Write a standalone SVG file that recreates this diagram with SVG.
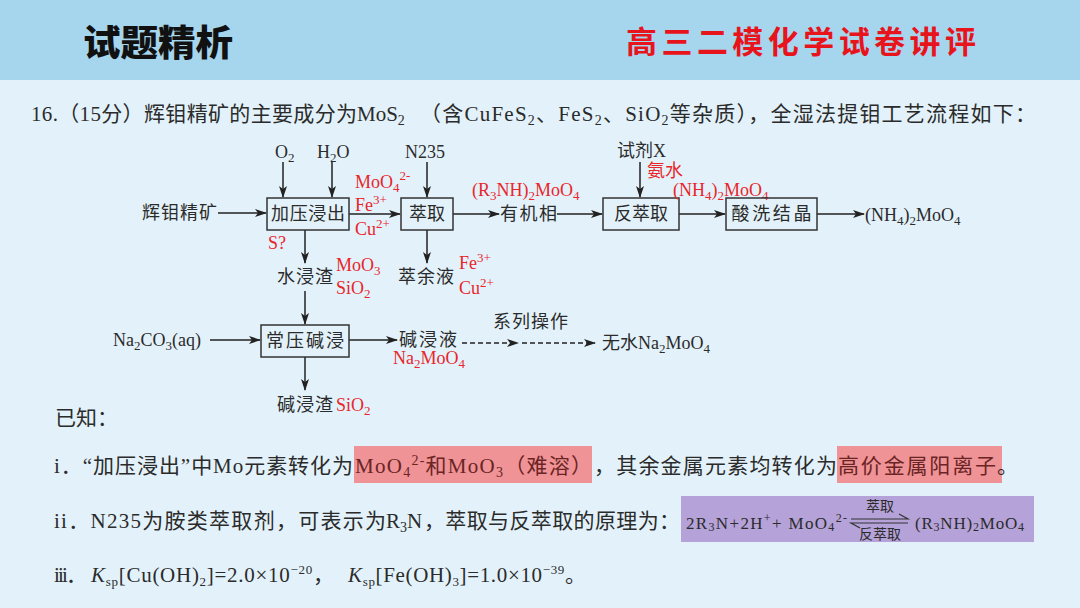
<svg xmlns="http://www.w3.org/2000/svg" width="1080" height="608" viewBox="0 0 1080 608">
<defs>
<style>
.t{font-family:'Liberation Serif','Noto Sans CJK SC',serif;fill:#2b2b2b}
.f{font-size:18px}
.r{fill:#e8262b}
.q{font-size:21px}
.box{fill:none;stroke:#333;stroke-width:1.5}
.ln{fill:none;stroke:#222;stroke-width:1.5}
.dash{stroke-dasharray:5 3}
</style>
<marker id="ah" viewBox="0 0 12 8" refX="11" refY="4" markerWidth="12" markerHeight="8" markerUnits="userSpaceOnUse" orient="auto">
<path d="M0,0 L12,4 L0,8 L3,4 z" fill="#222"/>
</marker>
</defs>
<rect x="0" y="0" width="1080" height="608" fill="#e3f2fa"/>
<rect x="0" y="0" width="1080" height="80" fill="#a6d5ee"/>
<text x="83" y="56" font-family="'Noto Sans CJK SC',sans-serif" font-size="36" font-weight="900" fill="#111" textLength="150" lengthAdjust="spacingAndGlyphs">试题精析</text>
<text x="626" y="53" font-family="'Noto Sans CJK SC',sans-serif" font-size="31" font-weight="700" fill="#e8141c" textLength="350" lengthAdjust="spacing">高三二模化学试卷讲评</text>

<!-- question line -->
<text class="t" x="31" y="121" font-size="21" textLength="326" lengthAdjust="spacing">16.（15分）辉钼精矿的主要成分为</text>
<text class="t" x="357" y="121" font-size="21">MoS<tspan font-size="14" dy="4">2</tspan></text>
<text class="t" x="420" y="121" font-size="21" textLength="616" lengthAdjust="spacing">（含CuFeS<tspan font-size="14" dy="4">2</tspan><tspan dy="-4">、FeS</tspan><tspan font-size="14" dy="4">2</tspan><tspan dy="-4">、SiO</tspan><tspan font-size="14" dy="4">2</tspan><tspan dy="-4">等杂质），全湿法提钼工艺流程如下：</tspan></text>

<!-- connectors -->
<g id="connectors">
<path class="ln" d="M218,213 H266" marker-end="url(#ah)"/>
<path class="ln" d="M283,162 V197" marker-end="url(#ah)"/>
<path class="ln" d="M332,162 V197" marker-end="url(#ah)"/>
<path class="ln" d="M349,214 H400" marker-end="url(#ah)"/>
<path class="ln" d="M427,162 V197" marker-end="url(#ah)"/>
<path class="ln" d="M453,214 H499" marker-end="url(#ah)"/>
<path class="ln" d="M557,214 H602" marker-end="url(#ah)"/>
<path class="ln" d="M640,162 V197" marker-end="url(#ah)"/>
<path class="ln" d="M679,214 H725" marker-end="url(#ah)"/>
<path class="ln" d="M817,214 H864" marker-end="url(#ah)"/>
<path class="ln" d="M305,230 V263" marker-end="url(#ah)"/>
<path class="ln" d="M427,230 V263" marker-end="url(#ah)"/>
<path class="ln" d="M305,291 V324" marker-end="url(#ah)"/>
<path class="ln" d="M210,340 H260" marker-end="url(#ah)"/>
<path class="ln" d="M349,340 H397" marker-end="url(#ah)"/>
<path class="ln" d="M305,357 V390" marker-end="url(#ah)"/>
<path class="ln dash" d="M462,343 H518" marker-end="url(#ah)"/>
<path class="ln dash" d="M522,343 H595" marker-end="url(#ah)"/>
</g>

<!-- nodes -->
<g id="n-ore"><text class="t f" x="142" y="219" textLength="75" lengthAdjust="spacing">辉钼精矿</text></g>
<g id="n-o2"><text class="t f" x="275" y="158">O<tspan font-size="13" dy="4">2</tspan></text></g>
<g id="n-h2o"><text class="t f" x="317" y="158">H<tspan font-size="13" dy="4">2</tspan><tspan dy="-4">O</tspan></text></g>
<g id="n-leach"><rect class="box" x="267" y="198" width="82" height="32"/><text class="t f" x="308" y="220" text-anchor="middle" textLength="74" lengthAdjust="spacing">加压浸出</text></g>
<g id="n-leach-lbl">
<text class="t f r" x="355" y="188">MoO<tspan font-size="13" dy="4">4</tspan><tspan font-size="13" dy="-12">2-</tspan></text>
<text class="t f r" x="355" y="211">Fe<tspan font-size="13" dy="-7">3+</tspan></text>
<text class="t f r" x="355" y="235">Cu<tspan font-size="13" dy="-7">2+</tspan></text>
</g>
<g id="n-n235"><text class="t f" x="405" y="158">N235</text></g>
<g id="n-extract"><rect class="box" x="401" y="198" width="52" height="32"/><text class="t f" x="427" y="220" text-anchor="middle">萃取</text></g>
<g id="n-org"><text class="t f r" x="472" y="196">(R<tspan font-size="13" dy="4">3</tspan><tspan dy="-4">NH)</tspan><tspan font-size="13" dy="4">2</tspan><tspan dy="-4">MoO</tspan><tspan font-size="13" dy="4">4</tspan></text>
<text class="t f" x="500" y="220" textLength="57" lengthAdjust="spacing">有机相</text></g>
<g id="n-x"><text class="t f" x="617" y="157">试剂X</text><text class="t r" x="647" y="177" font-size="18">氨水</text></g>
<g id="n-back"><rect class="box" x="603" y="198" width="76" height="32"/><text class="t f" x="641" y="220" text-anchor="middle">反萃取</text></g>
<g id="n-back-lbl"><text class="t f r" x="673" y="196">(NH<tspan font-size="13" dy="4">4</tspan><tspan dy="-4">)</tspan><tspan font-size="13" dy="4">2</tspan><tspan dy="-4">MoO</tspan><tspan font-size="13" dy="4">4</tspan></text></g>
<g id="n-cryst"><rect class="box" x="726" y="198" width="91" height="32"/><text class="t f" x="771.5" y="220" text-anchor="middle" textLength="80" lengthAdjust="spacing">酸洗结晶</text></g>
<g id="n-prod"><text class="t f" x="865" y="221">(NH<tspan font-size="13" dy="4">4</tspan><tspan dy="-4">)</tspan><tspan font-size="13" dy="4">2</tspan><tspan dy="-4">MoO</tspan><tspan font-size="13" dy="4">4</tspan></text></g>
<g id="n-s"><text class="t f r" x="268" y="249">S?</text></g>
<g id="n-res1"><text class="t f" x="277" y="283" textLength="56" lengthAdjust="spacing">水浸渣</text>
<text class="t f r" x="336" y="271">MoO<tspan font-size="13" dy="4">3</tspan></text>
<text class="t f r" x="336" y="294">SiO<tspan font-size="13" dy="4">2</tspan></text></g>
<g id="n-raff"><text class="t f" x="398" y="283" textLength="56" lengthAdjust="spacing">萃余液</text>
<text class="t f r" x="459" y="269">Fe<tspan font-size="13" dy="-7">3+</tspan></text>
<text class="t f r" x="459" y="294">Cu<tspan font-size="13" dy="-7">2+</tspan></text></g>
<g id="n-na2co3"><text class="t f" x="113" y="346">Na<tspan font-size="13" dy="4">2</tspan><tspan dy="-4">CO</tspan><tspan font-size="13" dy="4">3</tspan><tspan dy="-4">(aq)</tspan></text></g>
<g id="n-alk"><rect class="box" x="261" y="325" width="88" height="32"/><text class="t f" x="305" y="347" text-anchor="middle" textLength="78" lengthAdjust="spacing">常压碱浸</text></g>
<g id="n-alkliq"><text class="t f" x="399" y="346" textLength="58" lengthAdjust="spacing">碱浸液</text>
<text class="t f r" x="393" y="364">Na<tspan font-size="13" dy="4">2</tspan><tspan dy="-4">MoO</tspan><tspan font-size="13" dy="4">4</tspan></text></g>
<g id="n-ops"><text class="t f" x="493" y="328" textLength="75" lengthAdjust="spacing">系列操作</text></g>
<g id="n-anh"><text class="t f" x="602" y="349">无水Na<tspan font-size="13" dy="4">2</tspan><tspan dy="-4">MoO</tspan><tspan font-size="13" dy="4">4</tspan></text></g>
<g id="n-res2"><text class="t f" x="277" y="411" textLength="56" lengthAdjust="spacing">碱浸渣</text>
<text class="t f r" x="336" y="411">SiO<tspan font-size="13" dy="4">2</tspan></text></g>

<!-- known -->
<text class="t q" x="55" y="425">已知：</text>

<rect x="354" y="446" width="238" height="37" fill="#ef9396"/>
<rect x="837" y="446" width="165" height="37" fill="#ef9396"/>
<text class="t q" x="54" y="473" textLength="299" lengthAdjust="spacing">i．“加压浸出”中Mo元素转化为</text>
<text class="t q" x="355" y="473" style="fill:#6b2424" textLength="237" lengthAdjust="spacing">MoO<tspan font-size="14" dy="4">4</tspan><tspan font-size="14" dy="-12">2-</tspan><tspan dy="8">和MoO</tspan><tspan font-size="14" dy="4">3</tspan><tspan dy="-4">（难溶）</tspan></text>
<text class="t q" x="594" y="473" textLength="243" lengthAdjust="spacing">，其余金属元素均转化为</text>
<text class="t q" x="838" y="473" style="fill:#6b2424" textLength="158" lengthAdjust="spacing">高价金属阳离子</text>
<text class="t q" x="997" y="473">。</text>

<text class="t q" x="54" y="528" textLength="332" lengthAdjust="spacing">ii．N235为胺类萃取剂，可表示为</text>
<text class="t q" x="386" y="528">R<tspan font-size="14" dy="4">3</tspan><tspan dy="-4">N</tspan></text>
<text class="t q" x="424" y="528" textLength="256" lengthAdjust="spacing">，萃取与反萃取的原理为：</text>
<rect x="681" y="496" width="353" height="46" fill="#b5a2d8"/>
<text class="t" x="686" y="529" font-size="17" textLength="161" lengthAdjust="spacing">2R<tspan font-size="12" dy="2">3</tspan><tspan dy="-2">N+2H</tspan><tspan font-size="12" dy="-7">+</tspan><tspan dy="7">+ MoO</tspan><tspan font-size="12" dy="2">4</tspan><tspan font-size="12" dy="-9">2-</tspan></text>
<text class="t" x="880" y="511" font-size="14" text-anchor="middle">萃取</text>
<path d="M851,519 H908 L899,514" fill="none" stroke="#333" stroke-width="1.2"/>
<path d="M908,523 H851 L860,528" fill="none" stroke="#333" stroke-width="1.2"/>
<text class="t" x="880" y="539" font-size="14" text-anchor="middle">反萃取</text>
<text class="t" x="915" y="529" font-size="17" textLength="109" lengthAdjust="spacing">(R<tspan font-size="12" dy="2">3</tspan><tspan dy="-2">NH)</tspan><tspan font-size="12" dy="2">2</tspan><tspan dy="-2">MoO</tspan><tspan font-size="12" dy="2">4</tspan></text>

<text class="t q" x="54" y="582" textLength="33" lengthAdjust="spacing">iii．</text>
<text class="t q" x="91" y="582" textLength="243" lengthAdjust="spacing"><tspan font-style="italic">K</tspan><tspan font-size="13" dy="4">sp</tspan><tspan dy="-4">[Cu(OH)</tspan><tspan font-size="13" dy="4">2</tspan><tspan dy="-4">]=2.0×10</tspan><tspan font-size="13" dy="-8">−20</tspan><tspan dy="8">，</tspan></text>
<text class="t q" x="348" y="582" textLength="238" lengthAdjust="spacing"><tspan font-style="italic">K</tspan><tspan font-size="13" dy="4">sp</tspan><tspan dy="-4">[Fe(OH)</tspan><tspan font-size="13" dy="4">3</tspan><tspan dy="-4">]=1.0×10</tspan><tspan font-size="13" dy="-8">−39</tspan><tspan dy="8">。</tspan></text>
</svg>
